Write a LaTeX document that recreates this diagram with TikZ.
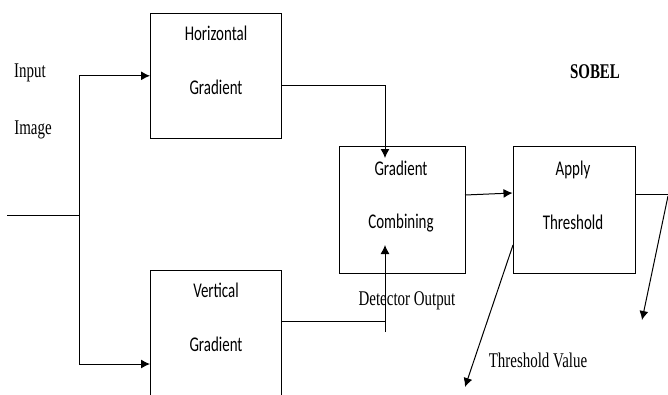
\documentclass[tikz,border=0pt]{standalone}
\usepackage{fontspec}
\setmainfont{Liberation Serif}
\newfontfamily\boxfont{Carlito}
\usetikzlibrary{arrows.meta}
\newcommand{\tall}[1]{\scalebox{1}[1.4]{#1}}

\begin{document}
\begin{tikzpicture}[x=1bp,y=-1bp,>={Latex[length=9bp,width=9bp]},line width=1bp,
  blk/.style={draw,rectangle,inner sep=0pt},
  blktext/.style={font=\boxfont\fontsize{15}{18}\selectfont,inner sep=0pt},
  lbl/.style={font=\fontsize{15}{18}\selectfont,inner sep=0pt}]
\useasboundingbox (0,0) rectangle (668,394);
\node[blk,minimum width=131bp,minimum height=125bp] (H) at (216,75.8) {};
\node[blk,minimum width=131bp,minimum height=188bp] (V) at (216,364) {};
\node[blk,minimum width=126bp,minimum height=127bp] (C) at (402,209.5) {};
\node[blk,minimum width=122bp,minimum height=127bp] (T) at (574,209.5) {};
\node[blktext] (H1) at (216,33) {\tall{Horizontal}};
\node[blktext] (H2) at (216,87) {\tall{Gradient}};
\node[blktext] (V1) at (216,290) {\tall{Vertical}};
\node[blktext] (V2) at (216,344) {\tall{Gradient}};
\node[blktext] (C1) at (401,168) {\tall{Gradient}};
\node[blktext] (C2) at (401,223) {\tall{Combining}};
\node[blktext] (T1) at (573,170) {\tall{Apply}};
\node[blktext] (T2) at (573,222) {\tall{Threshold}};
\node[lbl] (in1) at (30,73) {\tall{Input}};
\node[lbl] (in2) at (33,130) {\tall{Image}};
\node[lbl] (det) at (407,301) {\tall{Detector Output}};
\node[lbl] (thv) at (538,360) {\tall{Threshold Value}};
\node[lbl,font=\bfseries\fontsize{15}{18}\selectfont] (sob) at (595,72) {\tall{SOBEL}};
% input branch
\coordinate (src) at (7,215);
\coordinate (fork) at (79,215);
\draw (src) -- (fork);
\draw[->] (fork) |- (H.west);
\draw[->] (fork) |- (V.west);
% gradients into combiner
\coordinate (hout) at (281.7,85);
\coordinate (hin) at (385,158);
\draw[->] (hout) -| (hin);
\coordinate (vout) at (281.7,321);
\coordinate (vtail) at (385,332);
\coordinate (vin) at (385,245);
\draw (vout) -- (vout -| vin);
\draw[->] (vtail) -- (vin);
% combiner to threshold
\coordinate (cout) at (465,195);
\coordinate (tin) at (512.5,193);
\draw[->] (cout) -- (tin);
\coordinate (tv0) at (513,245);
\coordinate (tv1) at (465,387);
\draw[->] (tv0) -- (tv1);
% output
\coordinate (tout) at (635,194);
\coordinate (edge) at (668,194);
\coordinate (otip) at (642,320);
\draw (tout) -- (edge);
\draw[->] (668,196) -- (otip);
\end{tikzpicture}
\end{document}
